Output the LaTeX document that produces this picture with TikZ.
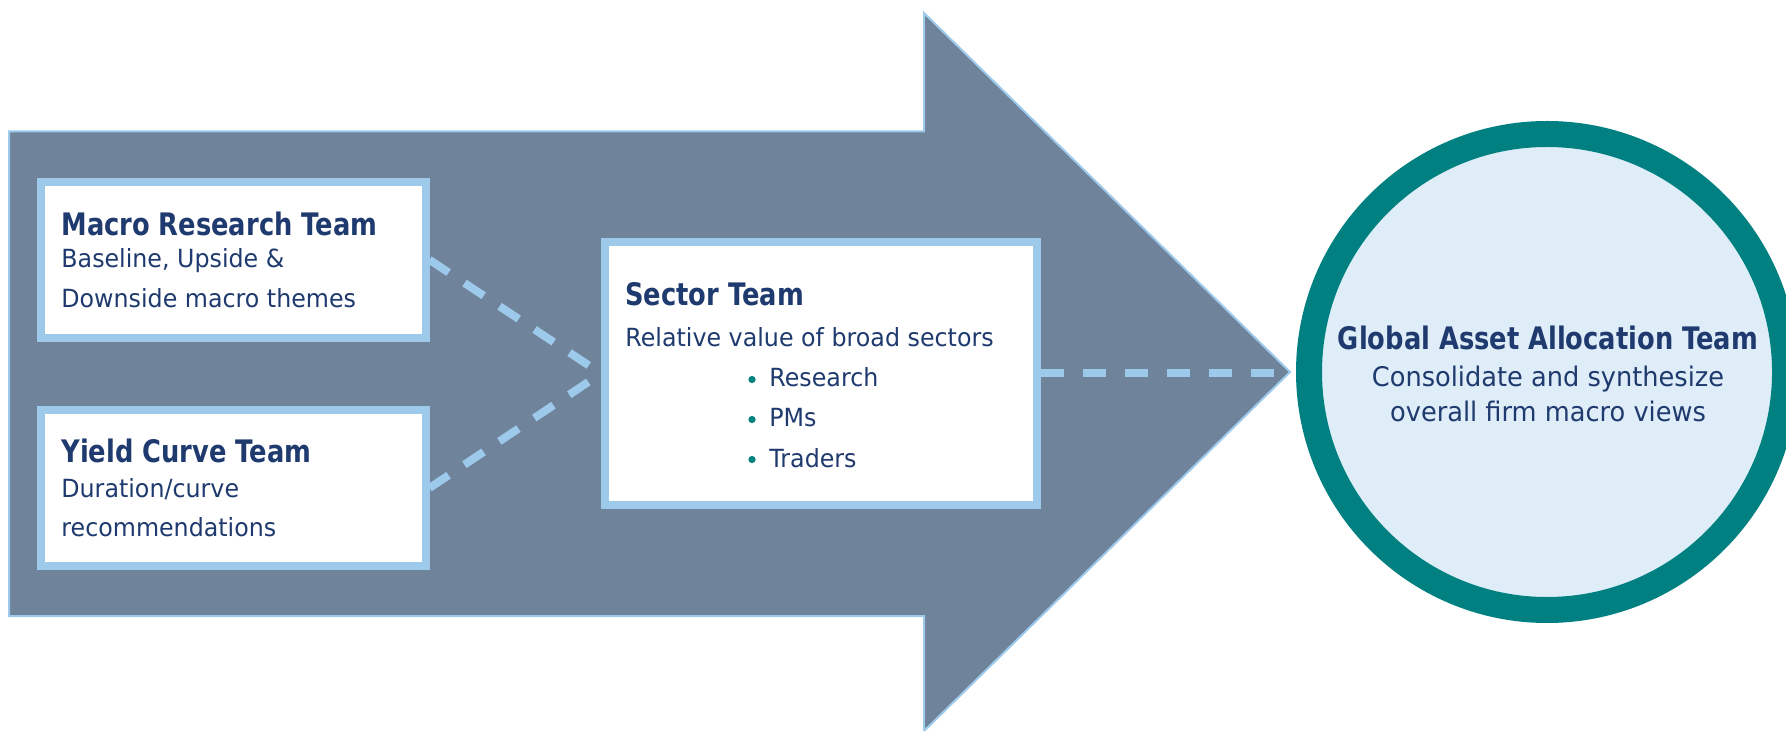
\documentclass[tikz,border=0pt]{standalone}
\usepackage{fontspec}
\setmainfont{DejaVu Sans}[FakeStretch=0.95]
\newfontfamily\hdfont{DejaVu Sans}[FakeStretch=0.83]
\definecolor{navy}{HTML}{1F3A6E}
\definecolor{slate}{HTML}{6F839A}
\definecolor{lblue}{HTML}{9DC9EB}
\definecolor{teal}{HTML}{008080}
\definecolor{pale}{HTML}{DFEDF8}
\tikzset{
  teambox/.style={draw=lblue, line width=4pt, fill=white, rectangle, inner sep=0pt},
  ttl/.style={anchor=base west, inner sep=0pt, text=navy, font=\hdfont\bfseries\fontsize{15.5}{18}\selectfont},
  bodytxt/.style={anchor=base west, inner sep=0pt, text=navy, font=\fontsize{12.5}{15}\selectfont},
  ctitle/.style={anchor=base, inner sep=0pt, text=navy, font=\hdfont\bfseries\fontsize{15.5}{18}\selectfont},
  cbody/.style={anchor=base, inner sep=0pt, text=navy, font=\fontsize{13.5}{16}\selectfont},
  link/.style={draw=lblue, line width=4pt, dash pattern=on 11.5pt off 9.5pt},
  bdot/.style={circle, fill=teal, inner sep=0pt, minimum size=3.6pt},
}
\begin{document}
\begin{tikzpicture}[x=0.5pt,y=-0.5pt]
\useasboundingbox (0,0) rectangle (1786,731);
% big arrow
\path[fill=slate, draw=lblue, line width=1pt, line join=miter]
  (9,131.5) -- (924,131.5) -- (924,13) -- (1290,372) -- (924,731) -- (924,616) -- (9,616) -- cycle;
% boxes
\node[teambox, minimum width=192.25pt, minimum height=78.15pt] (macro) at (233.25,259.85) {};
\node[teambox, minimum width=192.25pt, minimum height=78pt] (yield) at (233.25,488) {};
\node[teambox, minimum width=216pt, minimum height=131.5pt] (sector) at (821,373.5) {};
% circle
\node[circle, draw=teal, line width=13pt, fill=pale, minimum size=238pt, inner sep=0pt] (gaa) at (1547,372) {};
% connectors
\draw[link] (macro.east) -- (sector.west);
\draw[link] (yield.east) -- (sector.west);
\draw[link, shorten >=10pt] (sector.east) -- (sector.east -| gaa.west);
% macro text
\node[ttl] (mt0) at (61,236) {Macro Research Team};
\node[bodytxt] (mt1) at (61,268) {Baseline, Upside \&};
\node[bodytxt] (mt2) at (61,308) {Downside macro themes};
% yield text
\node[ttl] (yt0) at (61,463) {Yield Curve Team};
\node[bodytxt] (yt1) at (61,497) {Duration/curve};
\node[bodytxt] (yt2) at (61,536) {recommendations};
% sector text
\node[ttl] (st0) at (625,306) {Sector Team};
\node[bodytxt] (st1) at (625,347) {Relative value of broad sectors};
\node[bdot] (b1) at (752,379.5) {};
\node[bdot] (b2) at (752,419.5) {};
\node[bdot] (b3) at (752,459.5) {};
\node[bodytxt] (st2) at (769,387) {Research};
\node[bodytxt] (st3) at (769,427) {PMs};
\node[bodytxt] (st4) at (769,467) {Traders};
% circle text
\node[ctitle] (gt0) at (1548,350) {Global Asset Allocation Team};
\node[cbody] (gt1) at (1548,387) {Consolidate and synthesize};
\node[cbody] (gt2) at (1548,422) {overall firm macro views};
\end{tikzpicture}
\end{document}
